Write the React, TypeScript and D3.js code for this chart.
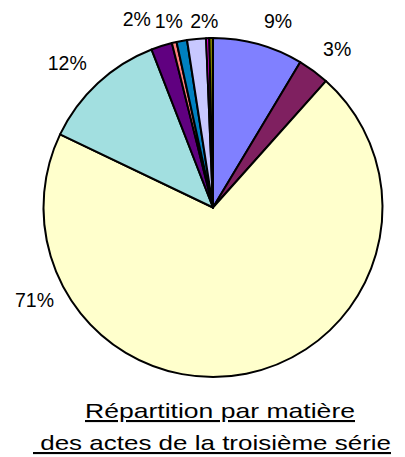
import React from 'react';
import * as d3 from 'd3';

// shares of each subject, clockwise from 12 o'clock
const values = [8.6, 3.0, 70.5, 12.0, 2.0, 0.45, 1.0, 1.8, 0.3, 0.35];
const colors = [
  '#8080ff', '#7f2060', '#ffffcc', '#a2dfe0', '#600080',
  '#ff8080', '#0080c0', '#c8c8ff', '#ff00ff', '#808000',
];
const titleLines = ['Répartition par matière', ' des actes de la troisième série'];

const WIDTH = 405;
const HEIGHT = 457;
const CX = 213;
const CY = 207.5;
const RADIUS = 169.5;
const LABEL_R = 200;
// Excel moved some labels around to avoid overlaps: [angle shift in degrees, radius]
const LABEL_ADJUST: Record<number, [number, number]> = {
  0: [3.7, 198],
  1: [1.8, 201],
  2: [74, 201],
  3: [-2.5, 205],
  4: [-4.4, 203],
  6: [-2.7, 192],
  7: [2.9, 187],
};

const FONT = 'Arial, "Liberation Sans", sans-serif';

const App: React.FC = () => {
  const pie = d3.pie<number>().sort(null).value(d => d);
  const arcs = pie(values);
  const arcGen = d3.arc<d3.PieArcDatum<number>>().innerRadius(0).outerRadius(RADIUS);
  const total = d3.sum(values);

  const labels = arcs.map((a, i) => {
    const pct = Math.round((a.data / total) * 100);
    if (pct < 1) return null;
    const mid = (a.startAngle + a.endAngle) / 2;
    const adj = LABEL_ADJUST[i] || [0, LABEL_R];
    const ang = mid + (adj[0] * Math.PI) / 180;
    const x = Math.sin(ang) * adj[1];
    const y = -Math.cos(ang) * adj[1];
    return (
      <text
        key={i}
        x={x}
        y={y}
        textAnchor="middle"
        dominantBaseline="central"
        fontSize={19.5}
        fontFamily={FONT}
        fill="#000"
      >
        {pct}%
      </text>
    );
  });

  return (
    <svg
      width={WIDTH}
      height={HEIGHT}
      style={{ position: 'absolute', left: 0, top: 0, background: '#fff' }}
    >
      <g transform={`translate(${CX}, ${CY})`}>
        {arcs.map((a, i) => (
          <path
            key={i}
            d={arcGen(a) || ''}
            fill={colors[i]}
            stroke="#000"
            strokeWidth={2}
            strokeLinejoin="round"
          />
        ))}
        {labels}
      </g>
      <text
        x={220}
        y={418}
        textAnchor="middle"
        fontSize={21}
        fontFamily={FONT}
        textLength={270}
        lengthAdjust="spacingAndGlyphs"
        textDecoration="underline"
      >
        {titleLines[0]}
      </text>
      <text
        x={212}
        y={450}
        textAnchor="middle"
        fontSize={21}
        fontFamily={FONT}
        textLength={358}
        lengthAdjust="spacingAndGlyphs"
        textDecoration="underline"
        style={{ whiteSpace: 'pre' }}
      >
        {titleLines[1]}
      </text>
    </svg>
  );
};

export default App;
